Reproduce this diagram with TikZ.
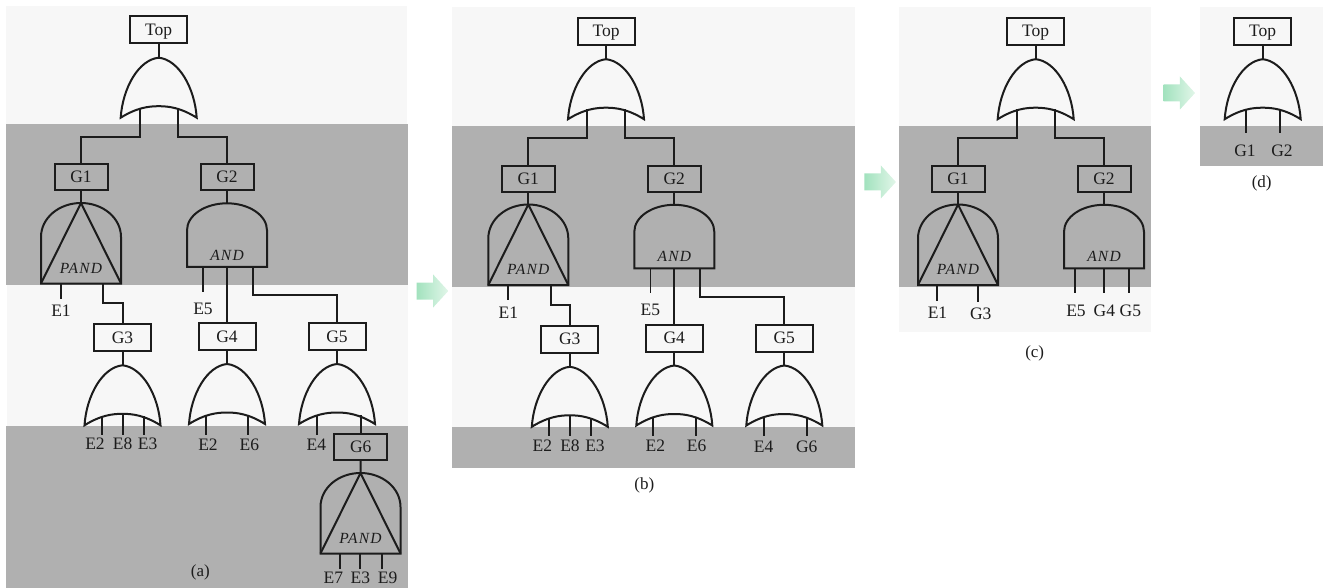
\documentclass[tikz,border=0pt]{standalone}
\usepackage{fontspec}
\setmainfont{Liberation Serif}
\usetikzlibrary{calc,shapes.arrows}
\definecolor{bandlight}{HTML}{F7F7F7}
\definecolor{banddark}{HTML}{B0B0B0}
\definecolor{ink}{HTML}{1C1C1C}
\definecolor{arrowa}{HTML}{A2E2BE}
\definecolor{arrowb}{HTML}{E2F6E9}
\tikzset{
  x=1pt,y=-1pt,
  wire/.style={draw=ink,line width=2pt,line cap=butt},
  thin wire/.style={draw=ink,line width=1.6pt},
  gateline/.style={draw=ink,line width=2pt,line join=miter},
  lab/.style={inner sep=0pt,text=ink,text height=11pt,text depth=0pt,font=\fontsize{17.5}{18}\selectfont},
  caplab/.style={inner sep=0pt,text=ink,font=\fontsize{17}{18}\selectfont},
  gatelab/.style={inner sep=0pt,text=ink,font=\fontsize{15.5}{16}\selectfont\itshape\addfontfeatures{LetterSpace=8}},
  widebox/.style={draw=ink,line width=2pt,minimum width=57pt,minimum height=27pt,inner sep=0pt,text=ink,text height=11pt,text depth=0pt,font=\fontsize{17.5}{18}\selectfont},
  narrowbox/.style={widebox,minimum width=53pt,minimum height=26pt},
  flow/.style={single arrow,minimum height=31.5pt,inner xsep=0pt,inner ysep=8.3pt,single arrow head extend=8pt,single arrow tip angle=95,left color=arrowa,right color=arrowb,draw=none},
  orgate/.pic={
    \draw[gateline] (-38,60) .. controls (-36,30) and (-20,2) .. (0,0) .. controls (20,2) and (36,30) .. (38,60) .. controls (22,50) and (10,48.5) .. (0,48.5) .. controls (-10,48.5) and (-22,50) .. (-38,60) -- cycle;
    \coordinate (-top) at (0,0);
    \coordinate (-m) at (0,48.5);
    \coordinate (-base) at (0,51);
    \coordinate (-tl) at (-19,50);
    \coordinate (-tr) at (19,50);
  },
  andgate/.pic={
    \draw[gateline] (-40,63.5) -- (-40,27) .. controls (-40,12) and (-22,0) .. (0,0) .. controls (22,0) and (40,12) .. (40,27) -- (40,63.5) -- cycle;
    \node[gatelab] (-label) at (0,51.7) {AND};
    \coordinate (-top) at (0,0);
    \coordinate (-base) at (0,63.5);
  },
  pandgate/.pic={
    \draw[gateline] (-40,80.5) -- (-40,34) .. controls (-40,15) and (-22,0) .. (0,0) .. controls (22,0) and (40,15) .. (40,34) -- (40,80.5) -- cycle;
    \draw[gateline] (-40,80.5) -- (0,0) -- (40,80.5);
    \node[gatelab] (-label) at (0,65) {PAND};
    \coordinate (-top) at (0,0);
    \coordinate (-base) at (0,80.5);
  },
}
% name, gate base, line x, line end y, label x, label y, text, wire style
\newcommand\leafwire[8]{%
  \coordinate (#1end) at (#3,#4);
  \node[lab] (#1) at (#5,#6) {#7};
  \draw[#8] (#2 -| #1end) -- (#1end);
}
% Top box and OR gate, panel (a) frame, shifted by the enclosing scope
\newcommand\topgate{%
  \node[widebox] (top) at (158.7,30) {Top};
  \pic (orA) at (158.7,57.7) {orgate};
  \draw[wire] (top.south) -- (orA-top);
}
% G1, G2 with PAND, AND
\newcommand\secondlevel{%
  \node[narrowbox] (G1) at (81,177.5) {G1};
  \node[narrowbox] (G2) at (227,177.5) {G2};
  \coordinate (bendA) at (81,136.7);
  \coordinate (bendB) at (227,136.7);
  \draw[wire] (orA-tl) |- (bendA) -- (G1.north);
  \draw[wire] (orA-tr) |- (bendB) -- (G2.north);
  \pic (pandA) at (81,203) {pandgate};
  \pic (andA) at (227,203.3) {andgate};
  \draw[wire] (G1.south) -- (pandA-top);
  \draw[wire] (G2.south) -- (andA-top);
}
% G3, G4, G5 level shared by panels (a) and (b)
\newcommand\thirdlevel{%
  \leafwire{E1}{pandA-base}{60.7}{298.7}{61}{311}{E1}{thin wire}
  \leafwire{E5}{andA-base}{203}{291.7}{203}{309}{E5}{thin wire}
  \node[widebox] (G3) at (122.5,337.7) {G3};
  \node[widebox] (G4) at (227,336.5) {G4};
  \node[widebox] (G5) at (337,336.5) {G5};
  \coordinate (stubA) at (103.3,303);
  \coordinate (bendC) at (122.5,303);
  \coordinate (stubB) at (253,295);
  \coordinate (bendD) at (337,295);
  \draw[wire] (pandA-base -| stubA) -- (stubA) -- (bendC) -- (G3.north);
  \draw[wire] (andA-base -| G4) -- (G4.north);
  \draw[wire] (andA-base -| stubB) -- (stubB) -- (bendD) -- (G5.north);
  \pic (orC) at (122.5,365.3) {orgate};
  \pic (orD) at (227,364) {orgate};
  \pic (orE) at (337,364) {orgate};
  \draw[wire] (G3.south) -- (orC-top);
  \draw[wire] (G4.south) -- (orD-top);
  \draw[wire] (G5.south) -- (orE-top);
  \leafwire{Ea}{orC-base}{102}{434.7}{95}{444}{E2}{wire}
  \leafwire{Eb}{orC-m}{122.5}{434.7}{122.7}{444}{E8}{wire}
  \leafwire{Ec}{orC-base}{143.7}{434.7}{147.7}{444}{E3}{wire}
  \leafwire{Ed}{orD-base}{206}{434.7}{208}{444.5}{E2}{wire}
  \leafwire{Ee}{orD-base}{248.3}{434.7}{249.3}{444.5}{E6}{wire}
  \leafwire{Ef}{orE-base}{316.7}{434.7}{316.3}{445}{E4}{thin wire}
}
\begin{document}
\begin{tikzpicture}
\useasboundingbox (0,0) rectangle (1323,588);
% bands
\fill[bandlight] (6,6) rectangle (407,124.5);
\fill[banddark] (6,124.5) rectangle (408,285);
\fill[bandlight] (7,285) rectangle (408,425.5);
\fill[banddark] (6,425.5) rectangle (408,588);
\fill[bandlight] (452.3,7) rectangle (855,125.7);
\fill[banddark] (452.3,125.7) rectangle (855.3,286.7);
\fill[bandlight] (452.3,286.7) rectangle (855.3,427);
\fill[banddark] (452.3,427) rectangle (855.3,468.3);
\fill[bandlight] (899.3,7) rectangle (1150.7,125.7);
\fill[banddark] (899,125.7) rectangle (1150.7,286.7);
\fill[bandlight] (899.3,286.7) rectangle (1150.7,331.7);
\fill[bandlight] (1200,7) rectangle (1323,125.7);
\fill[banddark] (1200,125.7) rectangle (1323,166);
% panel (a)
\begin{scope}[name prefix=a-]
  \topgate \secondlevel \thirdlevel
  \node[narrowbox] (G6) at (360.7,447.2) {G6};
  \draw[wire] (orE-base -| G6) -- (G6.north);
  \pic (pandB) at (360.5,473) {pandgate};
  \draw[wire] (G6.south) -- (pandB-top);
  \leafwire{Eg}{pandB-base}{340.3}{568.7}{333.3}{578}{E7}{wire}
  \leafwire{Eh}{pandB-base}{360.3}{568.7}{360.3}{578}{E3}{wire}
  \leafwire{Ei}{pandB-base}{382.3}{568.7}{387.7}{578}{E9}{wire}
  \node[caplab] (cap) at (200.3,572) {(a)};
\end{scope}
% panel (b)
\begin{scope}[name prefix=b-,shift={(447.3,1.5)}]
  \topgate \secondlevel \thirdlevel
  \leafwire{Eg}{orE-base}{359.4}{434.7}{359.4}{445.2}{G6}{wire}
  \node[caplab] (cap) at (197,483.5) {(b)};
\end{scope}
% panel (c)
\begin{scope}[name prefix=c-,shift={(877,1.5)}]
  \topgate \secondlevel
  \leafwire{Ea}{pandA-base}{60.3}{299.2}{60.5}{311.8}{E1}{wire}
  \leafwire{Eb}{pandA-base}{101}{300.2}{103.7}{312.5}{G3}{wire}
  \leafwire{Ec}{andA-base}{198.3}{291.2}{199}{309.5}{E5}{wire}
  \leafwire{Ed}{andA-base}{226.5}{291.2}{227.3}{309.5}{G4}{wire}
  \leafwire{Ee}{andA-base}{252.3}{291.2}{253.3}{309.5}{G5}{wire}
  \node[caplab] (cap) at (157.7,351.8) {(c)};
\end{scope}
% panel (d)
\begin{scope}[name prefix=d-,shift={(1104,1.5)}]
  \topgate
  \coordinate (Gaend) at (142,131.8);
  \coordinate (Gbend) at (176,131.8);
  \node[lab] (Ga) at (141,149.5) {G1};
  \node[lab] (Gb) at (178,149.5) {G2};
  \draw[wire] (orA-base -| Gaend) -- (Gaend);
  \draw[wire] (orA-base -| Gbend) -- (Gbend);
  \node[caplab] (cap) at (157.7,181.8) {(d)};
\end{scope}
% arrows between the panels
\node[flow] (stepAB) at (428.6,291) {};
\node[flow] (stepBC) at (876.3,182) {};
\node[flow] (stepCD) at (1175.4,93) {};
\end{tikzpicture}
\end{document}
